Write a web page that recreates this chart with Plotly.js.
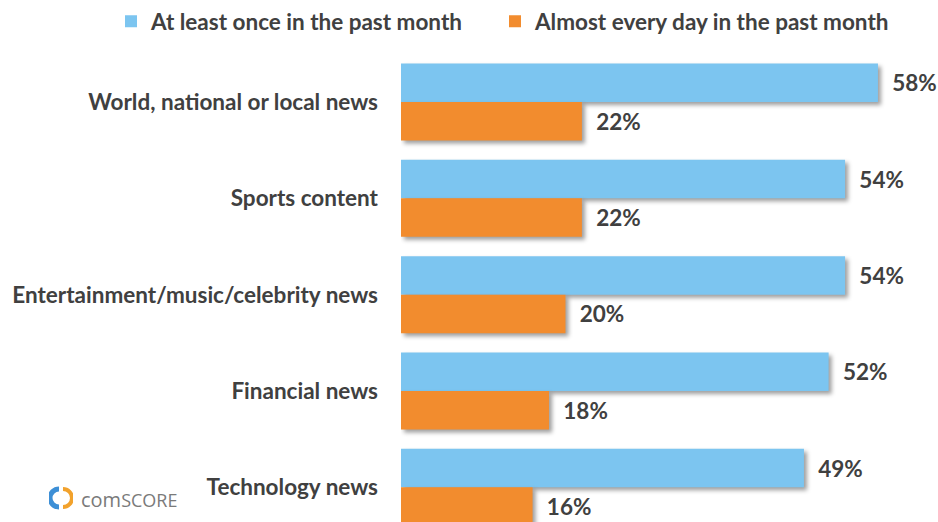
<!DOCTYPE html>
<html>
<head>
<meta charset="utf-8">
<script src="https://cdn.plot.ly/plotly-3.0.1.min.js"></script>
<style>
  html, body { margin: 0; padding: 0; background: #fff; }
  #chart { width: 938px; height: 522px; }
  .barlayer .point path { filter: drop-shadow(3px 3px 2px rgba(0,0,0,0.38)); }
</style>
</head>
<body>
<div id="chart"></div>
<script>
const categories = [
  "World, national or local news",
  "Sports content",
  "Entertainment/music/celebrity news",
  "Financial news",
  "Technology news"
];
const seriesNames = ["At least once in the past month", "Almost every day in the past month"];
const atLeastOnce = [58, 54, 54, 52, 49];
const almostEveryDay = [22, 22, 20, 18, 16];

const textColor = "#404040";
const fontFam = "Lato, 'Open Sans', sans-serif";
const fs = 22.5;

const common = {
  type: "bar",
  orientation: "h",
  y: categories,
  texttemplate: "\u2002%{x}%",
  textposition: "outside",
  cliponaxis: false,
  constraintext: "none",
  textfont: { family: fontFam, size: fs, weight: "bold", color: textColor },
  hoverinfo: "skip"
};

const data = [
  Object.assign({}, common, { name: seriesNames[0], x: atLeastOnce, marker: { color: "#7CC5F0" }, legend: "legend" }),
  Object.assign({}, common, { name: seriesNames[1], x: almostEveryDay, marker: { color: "#F28C2E" }, legend: "legend2" })
];

const ringSvg = '<svg xmlns="http://www.w3.org/2000/svg" width="24" height="24" viewBox="0 0 24 24">' +
  '<path d="M10,3 A9,9 0 0,0 10,21" fill="none" stroke="#3D8FD6" stroke-width="5"/>' +
  '<path d="M14,3 A9,9 0 0,1 14,21" fill="none" stroke="#F2A22C" stroke-width="4"/>' +
  '</svg>';

const legendFont = { family: fontFam, size: fs, weight: "bold", color: textColor };

const layout = {
  width: 938,
  height: 522,
  margin: { l: 401, r: 0, t: 50, b: 0 },
  paper_bgcolor: "#fff",
  plot_bgcolor: "#fff",
  barmode: "group",
  bargap: 0.2,
  bargroupgap: 0,
  showlegend: true,
  legend: {
    orientation: "h",
    x: (111 - 401) / 537, xanchor: "left",
    y: 1.06, yanchor: "middle",
    font: legendFont,
    itemclick: false
  },
  legend2: {
    orientation: "h",
    x: (495 - 401) / 537, xanchor: "left",
    y: 1.06, yanchor: "middle",
    font: legendFont,
    itemclick: false
  },
  xaxis: {
    range: [0, 65.3],
    visible: false,
    fixedrange: true
  },
  yaxis: {
    type: "category",
    range: [4.36, -0.54],
    showline: false,
    showgrid: false,
    zeroline: false,
    ticks: "",
    ticklabelstandoff: 22,
    tickfont: { family: fontFam, size: fs, weight: "bold", color: textColor },
    fixedrange: true
  },
  images: [
    { source: "data:image/svg+xml;charset=utf-8," + encodeURIComponent(ringSvg),
      xref: "paper", yref: "paper", x: (61 - 401) / 537, y: (522 - 498) / 472,
      sizex: 24 / 537, sizey: 24 / 472, xanchor: "center", yanchor: "middle",
      sizing: "contain", layer: "above" }
  ],
  annotations: [
    { xref: "paper", yref: "paper", x: (79 - 401) / 537, y: (522 - 499) / 472, xanchor: "left", yanchor: "middle",
      showarrow: false, text: "com<span style='font-size:18px'>SCORE</span>",
      font: { family: "'Open Sans', sans-serif", size: 20, color: "#7a7a7a" } }
  ]
};

Plotly.newPlot("chart", data, layout, { displayModeBar: false, staticPlot: true });
</script>
</body>
</html>
